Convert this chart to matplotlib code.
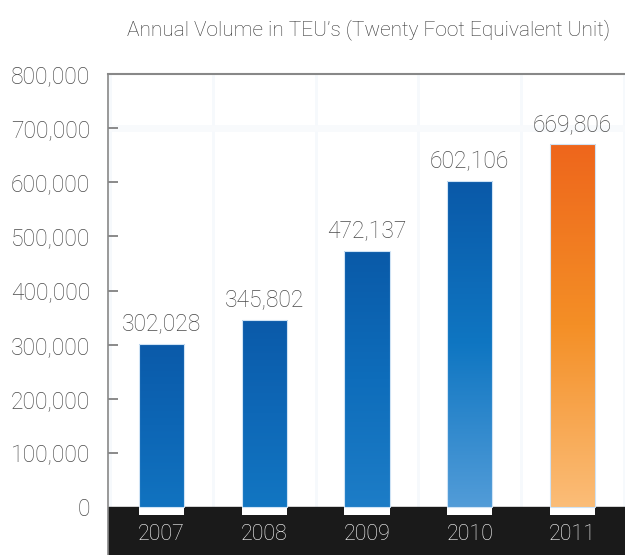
import numpy as np
import matplotlib
matplotlib.use("Agg")
import matplotlib.pyplot as plt
from matplotlib.colors import LinearSegmentedColormap

years = ["2007", "2008", "2009", "2010", "2011"]
volumes = [302028, 345802, 472137, 602106, 669806]
value_labels = ["302,028", "345,802", "472,137", "602,106", "669,806"]
yticks = [0, 100000, 200000, 300000, 400000, 500000, 600000, 700000, 800000]
ytick_labels = ["0", "100,000", "200,000", "300,000", "400,000", "500,000",
                "600,000", "700,000", "800,000"]
title = "Annual Volume in TEU\u2019s (Twenty Foot Equivalent Unit)"

top_colors = ["#0b5aa9", "#0b5aa9", "#0a5aa8", "#0a59a8", "#ee661c"]
mid_colors = ["#0d66b5", "#0e68b7", "#0e6dbb", "#0f76c2", "#f48f26"]
bot_colors = ["#1173c0", "#1276c2", "#1d7dc7", "#529cd8", "#fbbd78"]

FONT = ["Roboto", "DejaVu Sans"]
plt.rcParams["font.family"] = FONT
FS = 16.5
TXT = "#4a4a4a"

fig = plt.figure(figsize=(6.25, 5.55), dpi=100)
ax = fig.add_axes([108 / 625, 0, 1 - 108 / 625, (555 - 74) / 555])

ymax = 800000
px_per_unit = (507 - 74) / ymax
ymin = -(555 - 507) / px_per_unit
ax.set_ylim(ymin, ymax)
x = np.arange(len(years))
ax.set_xlim(-0.52, 4.51)

# faint background stripes
for b in np.arange(-0.5, len(years), 1.0):
    ax.axvline(b, color="#f6f9fc", lw=2, zorder=0)
ax.axhline(700000, color="#f8fafc", lw=5, zorder=0)

# black band below zero
ax.axhspan(ymin, 0, color="#1a1a1a", zorder=1)

bars = ax.bar(x, volumes, width=0.44, color="none", edgecolor="#cfe3f5",
              linewidth=0.8, zorder=3)
base = ax.bar(x, [-15000] * len(x), width=0.44, color="white", zorder=2,
              linewidth=0)

for i, rect in enumerate(bars):
    cmap = LinearSegmentedColormap.from_list(
        "g%d" % i, [bot_colors[i], mid_colors[i], top_colors[i]])
    grad = np.linspace(0, 1, 256).reshape(-1, 1)
    x0, w = rect.get_x(), rect.get_width()
    h = rect.get_height()
    im = ax.imshow(grad, cmap=cmap, aspect="auto", origin="lower",
                   extent=[x0, x0 + w, 0, h], zorder=2.5, interpolation="bicubic")
    im.set_clip_path(rect)
    ax.annotate(value_labels[i], (x[i], volumes[i]), xytext=(0, 6),
                textcoords="offset points", ha="center", va="bottom",
                fontsize=FS, color=TXT, fontweight="light")
    ax.text(x[i], -50000, years[i], ha="center", va="center",
            fontsize=15.5, color="white", fontweight="light", zorder=4)

ax.set_xlim(-0.52, 4.51)
ax.set_ylim(ymin, ymax)
ax.set_yticks(yticks)
ax.set_yticklabels(ytick_labels)
ax.set_xticks([])
ax.tick_params(axis="y", direction="in", length=7, width=1.2, color="#777777",
               labelsize=FS, labelcolor=TXT, pad=13)
for lbl in ax.get_yticklabels():
    lbl.set_fontweight("light")
ax.yaxis.get_major_ticks()[0].tick1line.set_visible(False)
ax.yaxis.get_major_ticks()[-1].tick1line.set_visible(False)

for s in ["right", "bottom"]:
    ax.spines[s].set_visible(False)
ax.spines["top"].set_color("#888888")
ax.spines["top"].set_linewidth(1.5)
ax.spines["left"].set_color("#888888")
ax.spines["left"].set_linewidth(1.2)

fig.text(610 / 625, 1 - 30 / 555, title, ha="right", va="center",
         fontsize=15, color="#333333", fontweight="light")

fig.savefig("out.png", dpi=100)
